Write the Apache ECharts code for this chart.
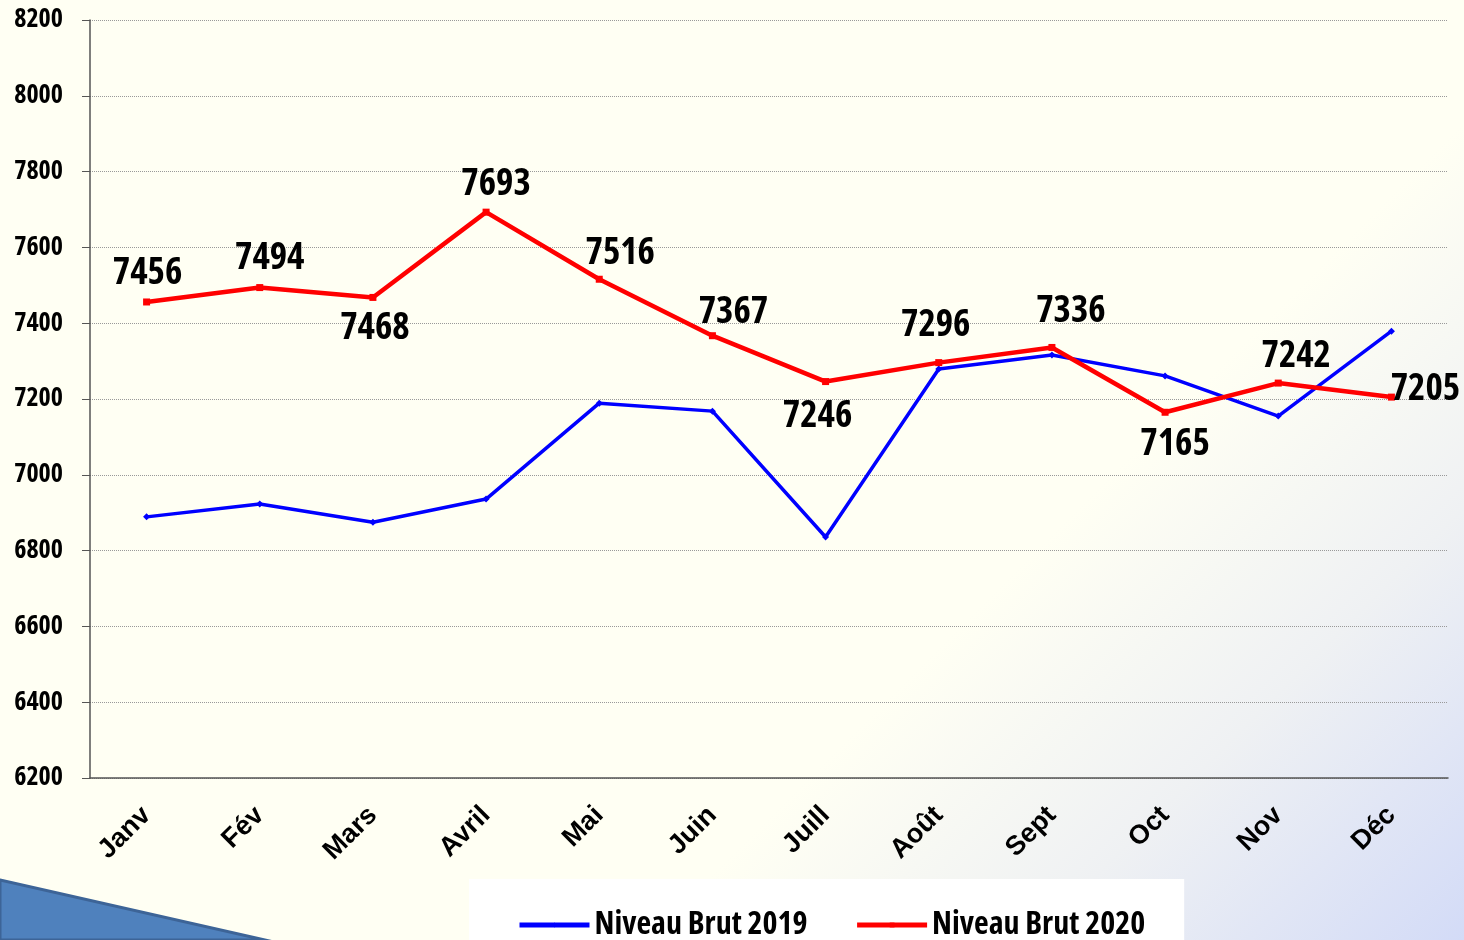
<!DOCTYPE html>
<html>
<head>
<meta charset="utf-8">
<script src="https://cdn.jsdelivr.net/npm/echarts@6/dist/echarts.min.js"></script>
<style>
  html, body { margin: 0; padding: 0; }
  #chart { width: 1464px; height: 940px; }
</style>
</head>
<body>
<div id="chart"></div>
<script>
// données
var mois = ["Janv", "Fév", "Mars", "Avril", "Mai", "Juin", "Juill", "Août", "Sept", "Oct", "Nov", "Déc"];
var niveau2019 = [6889, 6923, 6875, 6936, 7189, 7168, 6836, 7279, 7316, 7261, 7155, 7379];
var niveau2020 = [7456, 7494, 7468, 7693, 7516, 7367, 7246, 7296, 7336, 7165, 7242, 7205];

// placement des étiquettes (décalage par rapport au point)
var labelOffsets = [[1, -29], [10, -29], [2, 31], [10, -28], [21, -26], [21, -23],
                    [-8, 35], [-3, -37], [19, -36], [10, 32], [18, -27], [34, -8]];

// police étroite (Open Sans en largeur condensée)
var narrow = "'Open Sans', 'Liberation Sans', sans-serif";
var narrowBold = "bold condensed";

var data2020 = niveau2020.map(function (v, i) {
  return {
    value: v,
    label: { offset: labelOffsets[i] }
  };
});

var chart = echarts.init(document.getElementById("chart"));
chart.setOption({
  animation: false,
  backgroundColor: new echarts.graphic.LinearGradient(0, 0, 1202, 1202, [
    { offset: 0, color: "#FFFFF3" },
    { offset: 0.66, color: "#FFFFF3" },
    { offset: 0.82, color: "#EFF1F3" },
    { offset: 1, color: "#D3DBF7" }
  ], true),
  graphic: [
    {
      type: "polygon",
      shape: { points: [[0, 880], [265, 940], [0, 940]] },
      style: { fill: "#4F81BD", stroke: "#3D6497", lineWidth: 3 },
      z: -1
    }
  ],
  grid: { left: 90, right: 16, top: 20, bottom: 162, outerBoundsMode: "none" },
  legend: {
    left: 469,
    top: 879,
    backgroundColor: "#ffffff",
    padding: [30, 39, 20, 48],
    itemGap: 47,
    itemWidth: 70,
    itemHeight: 6,
    lineStyle: { width: 5 },
    textStyle: { fontFamily: narrow, fontWeight: narrowBold, fontSize: 32, color: "#000" },
    data: ["Niveau Brut 2019", "Niveau Brut 2020"]
  },
  xAxis: {
    type: "category",
    data: mois,
    boundaryGap: true,
    axisLine: { lineStyle: { color: "#555", width: 1.5 } },
    axisTick: { length: 8, lineStyle: { color: "#555" } },
    axisLabel: {
      rotate: 45,
      margin: 33,
      fontFamily: "'Liberation Sans', Arial, sans-serif",
      fontWeight: "bold",
      fontSize: 27,
      color: "#000"
    }
  },
  yAxis: {
    type: "value",
    min: 6200,
    max: 8200,
    interval: 200,
    axisLine: { show: true, lineStyle: { color: "#555", width: 1.5 } },
    axisTick: { show: true, length: 8, lineStyle: { color: "#555" } },
    axisLabel: {
      margin: 27,
      formatter: function (v) { return String(v); },
      fontFamily: narrow,
      fontWeight: narrowBold,
      fontSize: 26,
      color: "#000"
    },
    splitLine: { lineStyle: { color: "#999", type: "dotted", width: 1 } }
  },
  series: [
    {
      name: "Niveau Brut 2019",
      type: "line",
      data: niveau2019,
      color: "#0000FF",
      symbol: "diamond",
      symbolSize: 7,
      lineStyle: { width: 3.5, color: "#0000FF" },
      itemStyle: { color: "#0000FF" }
    },
    {
      name: "Niveau Brut 2020",
      type: "line",
      data: data2020,
      color: "#FF0000",
      symbol: "rect",
      symbolSize: 7,
      lineStyle: { width: 4.5, color: "#FF0000" },
      itemStyle: { color: "#FF0000" },
      label: {
        show: true,
        position: "inside",
        fontFamily: narrow,
        fontWeight: narrowBold,
        fontSize: 37,
        color: "#000"
      },
      z: 3
    }
  ]
});
</script>
</body>
</html>
